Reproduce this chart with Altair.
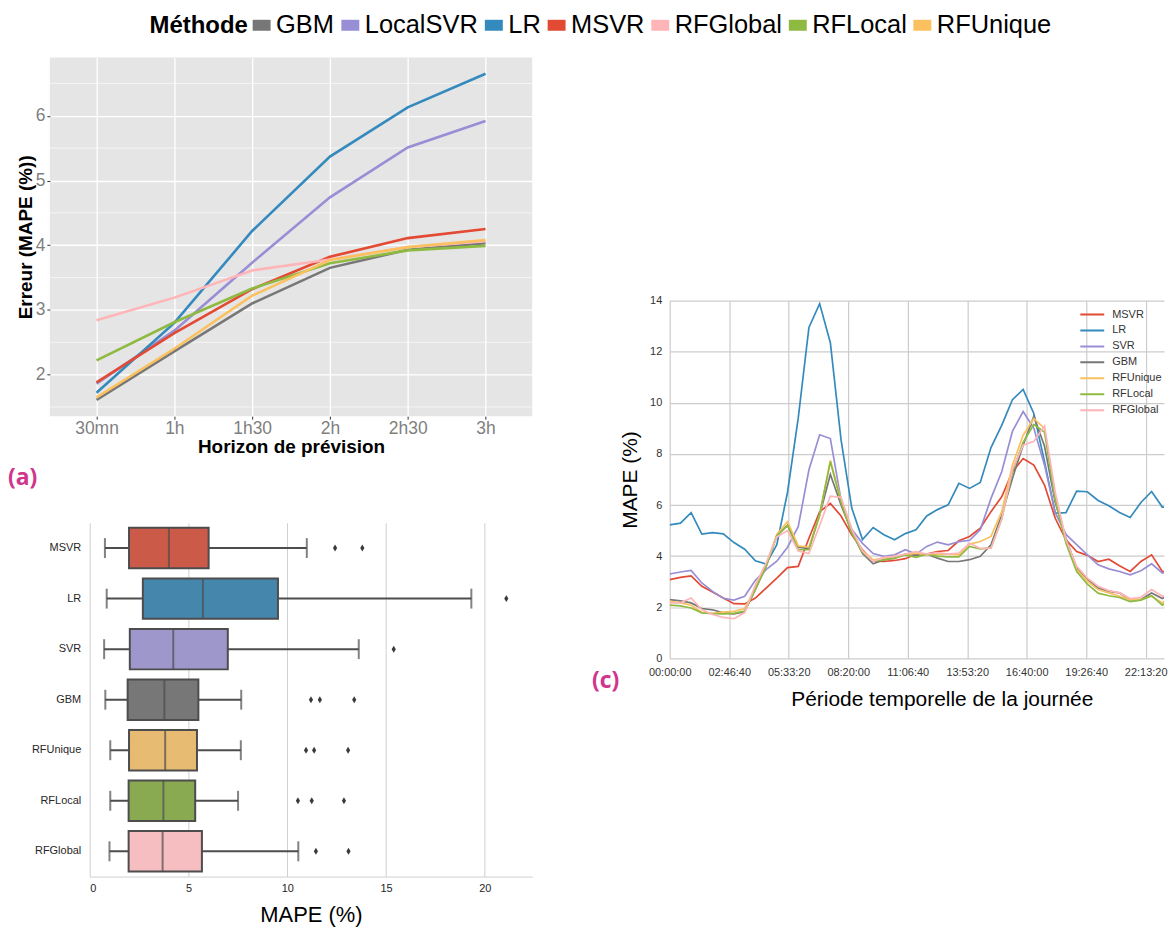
import altair as alt
import pandas as pd

FONT = "Liberation Sans"
MAGENTA = "#D0348C"

# ---------------- Panel (a) : MAPE vs horizon ----------------
horizons = ["30mn", "1h", "1h30", "2h", "2h30", "3h"]
methods_a = ["GBM", "LocalSVR", "LR", "MSVR", "RFGlobal", "RFLocal", "RFUnique"]
colors_a = ["#777777", "#988ED5", "#348ABD", "#E24A33", "#FFB5B8", "#8EBA42", "#FBC15E"]
gbm_a = [1.61, 2.36, 3.10, 3.65, 3.93, 4.03]
localsvr_a = [1.86, 2.68, 3.73, 4.74, 5.51, 5.92]
lr_a = [1.72, 2.80, 4.22, 5.37, 6.13, 6.65]
msvr_a = [1.88, 2.64, 3.32, 3.82, 4.11, 4.25]
rfglobal_a = [2.84, 3.19, 3.61, 3.78, 3.97, 4.06]
rflocal_a = [2.22, 2.81, 3.33, 3.72, 3.92, 3.99]
rfunique_a = [1.65, 2.40, 3.22, 3.77, 3.97, 4.08]
minor_a = [1.5, 2.5, 3.5, 4.5, 5.5, 6.5]

rows = []
for m, vals in zip(methods_a, [gbm_a, localsvr_a, lr_a, msvr_a, rfglobal_a, rflocal_a, rfunique_a]):
    for h, v in zip(horizons, vals):
        rows.append({"methode": m, "horizon": h, "mape": v})
df_a = pd.DataFrame(rows)

# ---------------- Panel (b) : boxplots ----------------
models_b = ["MSVR", "LR", "SVR", "GBM", "RFUnique", "RFLocal", "RFGlobal"]
box_colors = ["#CC5A49", "#4586AC", "#9E97CC", "#777777", "#E7BC72", "#8AAA52", "#F6BEC1"]
whisk_lo = [0.77, 0.86, 0.73, 0.79, 1.04, 1.04, 1.00]
q1_b = [1.99, 2.69, 2.03, 1.92, 1.99, 1.97, 1.97]
med_b = [4.01, 5.73, 4.23, 3.78, 3.82, 3.73, 3.69]
q3_b = [6.02, 9.53, 6.99, 5.50, 5.43, 5.34, 5.68]
whisk_hi = [10.99, 19.32, 13.62, 7.67, 7.65, 7.51, 10.56]
outliers_b = {
    "MSVR": [12.42, 13.80],
    "LR": [21.09],
    "SVR": [15.39],
    "GBM": [11.20, 11.65, 13.39],
    "RFUnique": [10.95, 11.36, 13.08],
    "RFLocal": [10.54, 11.24, 12.87],
    "RFGlobal": [11.45, 13.10],
}
df_b = pd.DataFrame({"model": models_b, "lo": whisk_lo, "q1": q1_b, "med": med_b,
                     "q3": q3_b, "hi": whisk_hi})
df_out = pd.DataFrame([{"model": m, "val": v} for m, vs in outliers_b.items() for v in vs])

# ---------------- Panel (c) : daily profile ----------------
times_c = [i * 1800 for i in range(48)]
models_c = ["MSVR", "LR", "SVR", "GBM", "RFUnique", "RFLocal", "RFGlobal"]
colors_c = ["#E24A33", "#348ABD", "#988ED5", "#777777", "#FBC15E", "#8EBA42", "#FFB5B8"]
msvr_c = [3.08, 3.17, 3.23, 2.82, 2.60, 2.36, 2.14, 2.13, 2.36, 2.75, 3.14, 3.55, 3.60, 4.70, 5.74, 6.06,
          5.57, 4.83, 4.25, 3.80, 3.79, 3.83, 3.90, 4.08, 4.08, 4.18, 4.22, 4.60, 4.77, 5.09, 5.74, 6.32,
          7.30, 7.82, 7.56, 6.78, 5.48, 4.64, 4.18, 4.03, 3.79, 3.88, 3.62, 3.40, 3.79, 4.05, 3.40, 3.38]
lr_c = [5.22, 5.29, 5.70, 4.86, 4.92, 4.87, 4.53, 4.27, 3.82, 3.69, 4.45, 6.50, 9.40, 12.95, 13.88, 12.35,
        8.55, 5.88, 4.65, 5.12, 4.84, 4.64, 4.88, 5.03, 5.57, 5.82, 6.01, 6.85, 6.65, 6.88, 8.25, 9.12,
        10.12, 10.52, 9.58, 7.70, 5.68, 5.70, 6.54, 6.52, 6.18, 5.97, 5.71, 5.51, 6.10, 6.53, 5.92, 5.90]
svr_c = [3.30, 3.38, 3.44, 2.95, 2.62, 2.35, 2.28, 2.43, 3.05, 3.47, 3.80, 4.35, 5.15, 7.38, 8.75, 8.60,
         6.20, 5.05, 4.50, 4.10, 3.99, 4.05, 4.25, 4.08, 4.38, 4.55, 4.44, 4.57, 4.62, 5.03, 6.26, 7.30,
         8.88, 9.66, 9.00, 7.56, 5.70, 4.85, 4.45, 4.05, 3.66, 3.50, 3.40, 3.27, 3.43, 3.70, 3.34, 3.43]
gbm_c = [2.30, 2.25, 2.17, 1.95, 1.90, 1.78, 1.74, 1.82, 2.70, 3.60, 4.80, 5.20, 4.35, 4.30, 5.60, 7.20,
         6.00, 4.95, 4.10, 3.70, 3.86, 3.92, 4.08, 4.03, 4.08, 3.92, 3.79, 3.79, 3.86, 3.99, 4.44, 5.61,
         7.04, 8.34, 9.47, 8.30, 6.10, 4.70, 3.53, 3.10, 2.75, 2.62, 2.56, 2.30, 2.30, 2.56, 2.34, 2.56]
rfunique_c = [2.23, 2.17, 2.08, 1.80, 1.76, 1.81, 1.84, 1.95, 2.75, 3.65, 4.85, 5.35, 4.40, 4.35, 5.60, 7.75,
              6.20, 4.95, 4.20, 3.85, 3.92, 3.99, 4.05, 4.12, 4.05, 4.08, 4.08, 4.05, 4.47, 4.57, 4.77, 5.74,
              7.56, 8.73, 9.38, 9.00, 6.26, 4.57, 3.47, 3.01, 2.69, 2.56, 2.43, 2.30, 2.30, 2.43, 2.17, 2.49]
rflocal_c = [2.08, 2.05, 1.97, 1.78, 1.75, 1.74, 1.76, 1.85, 2.70, 3.60, 4.80, 5.20, 4.25, 4.25, 5.65, 7.70,
             6.10, 4.90, 4.15, 3.80, 3.85, 3.92, 4.05, 3.95, 4.08, 4.00, 3.97, 3.97, 4.38, 4.28, 4.32, 5.45,
             7.30, 8.45, 9.15, 8.85, 6.20, 4.50, 3.40, 2.90, 2.55, 2.45, 2.38, 2.22, 2.28, 2.45, 2.08, 2.40]
rfglobal_c = [2.17, 2.17, 2.36, 1.90, 1.72, 1.60, 1.55, 1.79, 2.88, 3.73, 4.75, 5.00, 4.20, 4.10, 5.20, 6.35,
              6.30, 5.05, 4.20, 3.80, 3.95, 3.99, 4.08, 4.18, 4.08, 4.14, 4.08, 4.12, 4.50, 4.30, 4.30, 5.45,
              7.40, 8.34, 8.49, 9.09, 6.50, 4.64, 3.60, 3.14, 2.82, 2.65, 2.56, 2.34, 2.39, 2.69, 2.43, 2.60]
tick_times_c = [0, 10000, 20000, 30000, 40000, 50000, 60000, 70000, 80000]

rows = []
for m, vals in zip(models_c, [msvr_c, lr_c, svr_c, gbm_c, rfunique_c, rflocal_c, rfglobal_c]):
    for t, v in zip(times_c, vals):
        rows.append({"modele": m, "t": t, "v": v})
df_c = pd.DataFrame(rows)

# ================= Chart (a) =================
x_a = alt.X("horizon:O", sort=horizons,
            scale=alt.Scale(type="point", padding=0.6, domain=horizons),
            axis=alt.Axis(title="Horizon de prévision", labelAngle=0, labelFontSize=17.5,
                          labelColor="#7F7F7F", labelFont=FONT, labelPadding=0,
                          tickSize=3, tickColor="#333333", tickWidth=1, domain=False,
                          grid=True, gridColor="white", gridWidth=1.3,
                          titleFontSize=19, titleFont=FONT, titleFontWeight="bold",
                          titleColor="black", titlePadding=1))
y_a = alt.Y("mape:Q", scale=alt.Scale(domain=[1.358, 6.902], nice=False, zero=False),
            axis=alt.Axis(title="Erreur (MAPE (%))", values=[2, 3, 4, 5, 6], labelFontSize=17.5,
                          labelColor="#7F7F7F", labelFont=FONT, labelPadding=2,
                          tickSize=3, tickColor="#333333", tickWidth=1, domain=False,
                          grid=True, gridColor="white", gridWidth=1.3,
                          titleFontSize=19, titleFont=FONT, titleFontWeight="bold",
                          titleColor="black", titlePadding=0))

minor_grid_a = alt.Chart(pd.DataFrame({"mape": minor_a})).mark_rule(
    color="white", strokeWidth=0.6).encode(y=y_a)

lines_a = alt.Chart(df_a).mark_line(strokeWidth=2.6).encode(
    x=x_a, y=y_a,
    color=alt.Color("methode:N",
                    scale=alt.Scale(domain=methods_a, range=colors_a),
                    legend=alt.Legend(orient="none", legendX=198, legendY=-47,
                                      direction="horizontal", columns=7, title=None,
                                      labelFontSize=25.5, labelFont=FONT, labelColor="black",
                                      labelOffset=0, columnPadding=-16,
                                      symbolType="stroke", symbolSize=324,
                                      symbolStrokeWidth=11)))

legend_title_a = alt.Chart(pd.DataFrame({"t": ["Méthode"]})).mark_text(
    align="left", baseline="alphabetic", fontSize=24, fontWeight="bold", font=FONT,
    color="black").encode(x=alt.value(100), y=alt.value(-24), text="t:N")

top_anchor_a = alt.Chart(pd.DataFrame({"s": [0]})).mark_rule(
    opacity=0, strokeWidth=1).encode(x=alt.value(0), x2=alt.value(1), y=alt.value(-47.5))

label_a = alt.Chart(pd.DataFrame({"t": ["(a)"]})).mark_text(
    align="left", baseline="middle", fontSize=23, fontWeight="bold",
    font="Open Sans", color=MAGENTA).encode(x=alt.value(-42), y=alt.value(422), text="t:N")

chart_a = alt.layer(minor_grid_a, lines_a, legend_title_a, top_anchor_a, label_a).properties(
    width=484, height=360, view=alt.ViewBackground(fill="#E5E5E5", stroke=None))

# ================= Chart (b) =================
axis_xb = alt.Axis(title="MAPE (%)", values=[0, 5, 10, 15, 20], grid=True, gridColor="#D0D0D0",
                   gridWidth=1, domain=True, domainColor="#D0D0D0", ticks=False,
                   labelFontSize=11, labelFont=FONT, labelColor="#262626", labelPadding=6,
                   titleFontSize=22, titleFont=FONT, titleFontWeight="normal",
                   titleColor="black", titlePadding=11)
scale_xb = alt.Scale(domain=[0, 22.4], nice=False, zero=False)
y_b = alt.Y("model:N", sort=models_b,
            scale=alt.Scale(domain=models_b, paddingInner=0.2, paddingOuter=0.1),
            axis=alt.Axis(title=None, ticks=False, domain=False, grid=False,
                          labelFontSize=11, labelFont=FONT, labelColor="#262626",
                          labelPadding=9))
EDGE = "#4D4D4D"

whiskers = alt.Chart(df_b).mark_rule(color=EDGE, strokeWidth=2).encode(
    y=y_b, x=alt.X("lo:Q", scale=scale_xb, axis=axis_xb), x2="hi:Q")
boxes = alt.Chart(df_b).mark_bar(stroke=EDGE, strokeWidth=2, opacity=1).encode(
    y=y_b, x=alt.X("q1:Q", scale=scale_xb, axis=axis_xb), x2="q3:Q",
    color=alt.Color("model:N", scale=alt.Scale(domain=models_b, range=box_colors), legend=None))
medians = alt.Chart(df_b).mark_tick(color=EDGE, thickness=2, size=40, orient="vertical").encode(
    y=y_b, x=alt.X("med:Q", scale=scale_xb, axis=axis_xb))
caps_lo = alt.Chart(df_b).mark_tick(color=EDGE, thickness=2, size=20, orient="vertical").encode(
    y=y_b, x=alt.X("lo:Q", scale=scale_xb, axis=axis_xb))
caps_hi = alt.Chart(df_b).mark_tick(color=EDGE, thickness=2, size=20, orient="vertical").encode(
    y=y_b, x=alt.X("hi:Q", scale=scale_xb, axis=axis_xb))
outl = alt.Chart(df_out).mark_point(shape="M0,-1L0.6,0L0,1L-0.6,0Z", filled=True, size=49,
                                    color="#3A3A3A", opacity=1).encode(
    y=y_b, x=alt.X("val:Q", scale=scale_xb, axis=axis_xb))

chart_b = alt.layer(whiskers, boxes, medians, caps_lo, caps_hi, outl).properties(
    width=444, height=355)

# ================= Chart (c) =================
x_c = alt.X("t:Q", scale=alt.Scale(domain=[0, 83082], nice=False, zero=False),
            axis=alt.Axis(title="Période temporelle de la journée", values=tick_times_c,
                          labelExpr="utcFormat(datum.value * 1000, '%H:%M:%S')",
                          labelOverlap=False, labelFlush=False,
                          grid=True, gridColor="#CCCCCC", gridWidth=1.2, ticks=False,
                          domain=False, labelFontSize=11, labelFont=FONT,
                          labelColor="#333333", labelPadding=8,
                          titleFontSize=21, titleFont=FONT, titleFontWeight="normal",
                          titleColor="black", titlePadding=11, titleX=273))
y_c = alt.Y("v:Q", scale=alt.Scale(domain=[0, 14], nice=False),
            axis=alt.Axis(title="MAPE (%)", values=[0, 2, 4, 6, 8, 10, 12, 14],
                          grid=True, gridColor="#CCCCCC", gridWidth=1.2, ticks=False,
                          domain=False, labelFontSize=11, labelFont=FONT,
                          labelColor="#333333", labelPadding=8,
                          titleFontSize=21, titleFont=FONT, titleFontWeight="normal",
                          titleColor="black", titlePadding=9))
lines_c = alt.Chart(df_c).mark_line(strokeWidth=1.7, clip=True).encode(
    x=x_c, y=y_c,
    color=alt.Color("modele:N", scale=alt.Scale(domain=models_c, range=colors_c),
                    legend=alt.Legend(orient="none", legendX=411, legendY=6, title=None,
                                      symbolType="stroke", symbolSize=576,
                                      symbolStrokeWidth=2, clipHeight=16, rowPadding=0,
                                      labelFontSize=11, labelFont=FONT, labelColor="#333333",
                                      labelOffset=7)))
label_c = alt.Chart(pd.DataFrame({"t": ["(c)"]})).mark_text(
    align="left", baseline="middle", fontSize=23, fontWeight="bold",
    font="Open Sans", color=MAGENTA).encode(x=alt.value(-78), y=alt.value(382), text="t:N")

chart_c = alt.layer(lines_c, label_c).properties(width=496, height=359)


def spacer(w, h):
    return alt.Chart(pd.DataFrame({"s": [0]})).mark_point(opacity=0).encode(
        x=alt.value(0), y=alt.value(0)).properties(width=w, height=h)


row_b = alt.hconcat(spacer(40, 1), chart_b, spacing=0, bounds="flush").resolve_scale(color="independent")
left = alt.vconcat(chart_a, row_b, spacing=107, bounds="flush").resolve_scale(color="independent")
right = alt.vconcat(spacer(1, 244), chart_c, spacing=0, bounds="flush").resolve_scale(color="independent")
chart = alt.hconcat(left, right, spacing=622, bounds="flush").resolve_scale(
    color="independent").properties(
    padding={"left": 0, "top": 0, "right": 0, "bottom": 0},
    autosize=alt.AutoSizeParams(type="pad")
).configure(background="white", font=FONT).configure_view(stroke=None)

chart.save("out.html", embed_options={"renderer": "svg", "actions": False})
